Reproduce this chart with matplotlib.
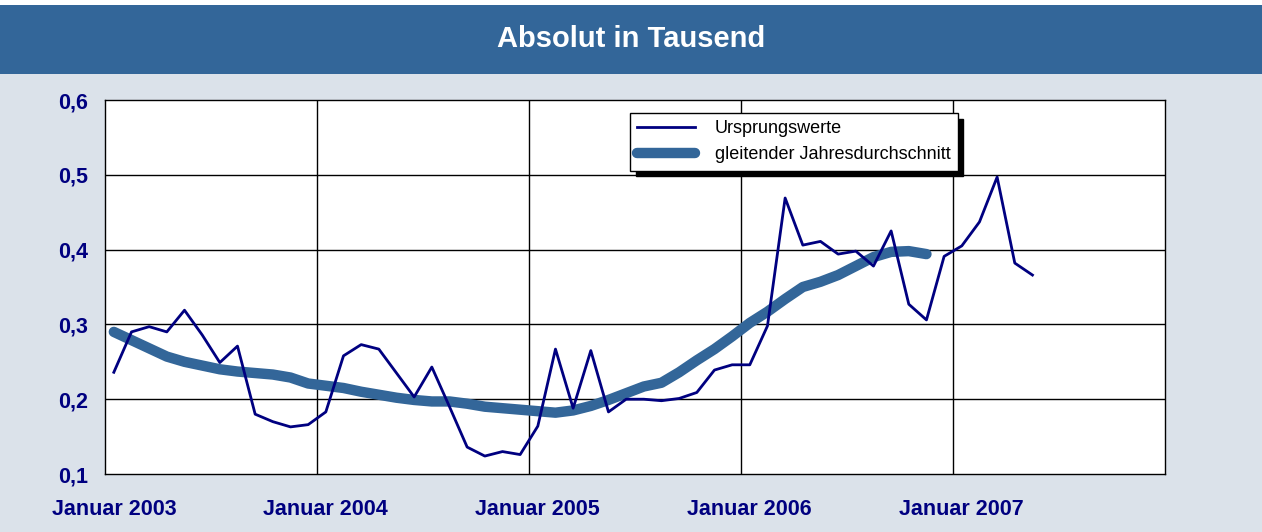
from __future__ import annotations

import matplotlib

matplotlib.use("Agg")

from matplotlib import patches, pyplot as plt  # noqa: E402
from matplotlib.ticker import FuncFormatter  # noqa: E402

plt.rcParams["font.family"] = ["Liberation Sans", "DejaVu Sans"]

TITLE = "Absolut in Tausend"
YEAR_LABELS = ["Januar 2003", "Januar 2004", "Januar 2005", "Januar 2006", "Januar 2007"]
SERIES_LABELS = ["Ursprungswerte", "gleitender Jahresdurchschnitt"]

# monthly values from January 2003 on (in thousands)
ursprungswerte = [
    0.236, 0.290, 0.297, 0.290, 0.319, 0.286, 0.249, 0.271, 0.180, 0.170, 0.163, 0.166,
    0.183, 0.258, 0.273, 0.267, 0.235, 0.203, 0.243, 0.190, 0.136, 0.124, 0.130, 0.126,
    0.164, 0.267, 0.188, 0.265, 0.183, 0.200, 0.200, 0.198, 0.201, 0.209, 0.239, 0.246,
    0.246, 0.298, 0.469, 0.406, 0.411, 0.394, 0.398, 0.378, 0.425, 0.327, 0.306, 0.391,
    0.405, 0.437, 0.497, 0.382, 0.366,
]
jahresdurchschnitt = [
    0.290, 0.279, 0.268, 0.257, 0.250, 0.245, 0.240, 0.237, 0.235, 0.233, 0.229, 0.221,
    0.218, 0.215, 0.210, 0.206, 0.202, 0.199, 0.197, 0.197, 0.194, 0.190, 0.188, 0.186,
    0.184, 0.182, 0.185, 0.191, 0.199, 0.208, 0.217, 0.222, 0.236, 0.252, 0.267, 0.284,
    0.302, 0.317, 0.334, 0.350, 0.357, 0.366, 0.378, 0.390, 0.397, 0.398, 0.394,
]
months_shown = 60

BANNER = "#336699"
BACKGROUND = "#dbe2ea"
NAVY = "#000080"


def main() -> None:
    figure = plt.figure(figsize=(12.62, 5.32), dpi=100, facecolor=BACKGROUND)

    # white strip on top, then the blue title banner
    figure.patches.append(
        patches.Rectangle((0, 0.9906), 1, 0.0094, transform=figure.transFigure,
                          facecolor="white", edgecolor="none", zorder=0)
    )
    figure.patches.append(
        patches.Rectangle((0, 0.861), 1, 0.1296, transform=figure.transFigure,
                          facecolor=BANNER, edgecolor="none", zorder=0)
    )
    figure.text(0.5, 0.926, TITLE, color="white", fontsize=21, fontweight="bold",
                ha="center", va="center")

    axis = figure.add_axes([0.0832, 0.109, 0.8399, 0.703])
    axis.set_facecolor("white")

    x_raw = range(len(ursprungswerte))
    x_avg = range(len(jahresdurchschnitt))
    axis.plot(x_raw, ursprungswerte, color=NAVY, linewidth=2.0,
              label=SERIES_LABELS[0], zorder=3)
    axis.plot(x_avg, jahresdurchschnitt, color=BANNER, linewidth=7.5,
              solid_capstyle="round", label=SERIES_LABELS[1], zorder=2)

    axis.set_xlim(-0.5, months_shown - 0.5)
    axis.set_ylim(0.1, 0.6)

    # year boundaries as vertical grid lines, labels under each January
    for boundary in range(12, months_shown, 12):
        axis.axvline(boundary - 0.5, color="black", linewidth=1.0, zorder=1)
    for level in (0.2, 0.3, 0.4, 0.5):
        axis.axhline(level, color="black", linewidth=1.0, zorder=1)

    axis.set_xticks(range(0, 12 * len(YEAR_LABELS), 12))
    axis.set_xticklabels(YEAR_LABELS)
    axis.set_yticks([0.1, 0.2, 0.3, 0.4, 0.5, 0.6])
    axis.yaxis.set_major_formatter(FuncFormatter(lambda v, _: f"{v:.1f}".replace(".", ",")))
    axis.tick_params(axis="both", length=0, colors=NAVY, labelsize=15.5)
    axis.tick_params(axis="y", pad=12)
    axis.tick_params(axis="x", pad=18)
    for label in axis.get_xticklabels() + axis.get_yticklabels():
        label.set_fontweight("bold")

    for spine in axis.spines.values():
        spine.set_color("black")
        spine.set_linewidth(1.0)

    legend = axis.legend(
        loc="upper left",
        bbox_to_anchor=(0.4953, 0.9652),
        borderaxespad=0,
        fontsize=13,
        frameon=True,
        fancybox=False,
        edgecolor="black",
        framealpha=1,
        shadow={"ox": 4, "oy": -4, "facecolor": "black", "edgecolor": "black", "alpha": 1},
        handlelength=3.2,
        handletextpad=1.1,
        borderpad=0.4,
        labelspacing=0.5,
    )
    legend.get_frame().set_linewidth(1.0)
    legend.set_zorder(5)

    figure.savefig("out.png", dpi=100, facecolor=BACKGROUND)
    plt.close(figure)


if __name__ == "__main__":
    main()
